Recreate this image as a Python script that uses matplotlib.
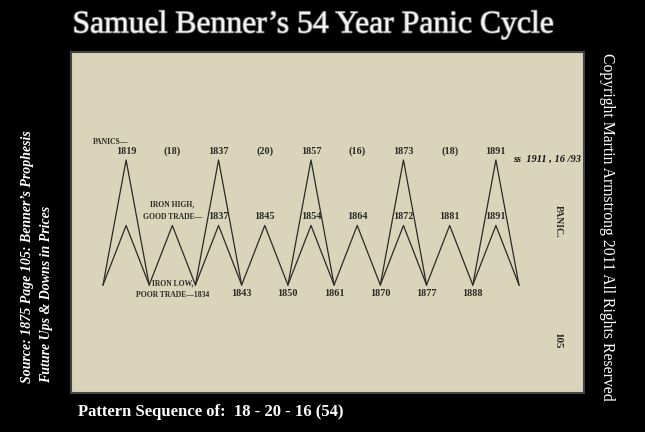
import matplotlib.pyplot as plt
from matplotlib import patheffects

W, H = 645, 432

# iron price zigzag: 0 = iron low / poor trade, 1 = iron high / good trade
iron_level = [0, 1, 0, 1, 0, 1, 0, 1, 0, 1, 0, 1, 0, 1, 0, 1, 0, 1, 0]
# panic spikes: start index of each low-peak-low triangle
panic_start = [0, 4, 8, 12, 16]
panic_level = 2.1
panic_years = ["1819", "1837", "1857", "1873", "1891"]
gap_labels = ["(18)", "(20)", "(16)", "(18)"]
high_idx = [5, 7, 9, 11, 13, 15, 17]
high_years = ["1837", "1845", "1854", "1864", "1872", "1881", "1891"]
low_idx = [6, 8, 10, 12, 14, 16]
low_years = ["1843", "1850", "1861", "1870", "1877", "1888"]

SERIF = ["Liberation Serif", "DejaVu Serif"]
plt.rcParams["font.family"] = SERIF
INK = "#2b2a26"
PAPER = "#dad4bb"


def fx(px):
    return px / W


def fy(py):
    return 1 - py / H


fig = plt.figure(figsize=(W / 100, H / 100), dpi=100, facecolor="black")

# scanned page
paper = fig.add_axes([fx(71), fy(393), fx(584 - 71), (393 - 52) / H])
paper.set_facecolor(PAPER)
paper.set_xticks([])
paper.set_yticks([])
for s in paper.spines.values():
    s.set_color("#444444")
    s.set_linewidth(1.5)

# chart area inside the page
ax = fig.add_axes([fx(103), fy(285), fx(519 - 103), (285 - 160) / H])
ax.set_xlim(0, len(iron_level) - 1)
ax.set_ylim(0, panic_level)
ax.axis("off")

xs = list(range(len(iron_level)))
ax.plot(xs, iron_level, color=INK, lw=0.9, clip_on=False)
for s in panic_start:
    ax.plot([s, s + 1, s + 2], [iron_level[s], panic_level, iron_level[s + 2]],
            color=INK, lw=0.9, clip_on=False)

lab = dict(fontsize=7.3, fontweight="bold", color=INK, ha="center",
           textcoords="offset points", annotation_clip=False)
for s, yr in zip(panic_start, panic_years):
    ax.annotate(yr, (s + 1, panic_level), xytext=(0, 3), va="bottom", **lab)
for i, g in enumerate(gap_labels):
    ax.annotate(g, (panic_start[i] + 3, panic_level), xytext=(0, 3), va="bottom", **lab)
for i, yr in zip(high_idx, high_years):
    ax.annotate(yr, (i, 1), xytext=(0, 3), va="bottom", **lab)
for i, yr in zip(low_idx, low_years):
    ax.annotate(yr, (i, 0), xytext=(0, -3), va="top", **lab)

small = dict(fontsize=5.5, fontweight="bold", color=INK, ha="center", va="center")
ax.annotate("PANICS—", (1, panic_level), xytext=(-11, 13),
            textcoords="offset points", annotation_clip=False, **small)
ax.annotate("IRON HIGH,", (3, 1), xytext=(0, 15),
            textcoords="offset points", annotation_clip=False, **small)
ax.annotate("GOOD TRADE—", (3, 1), xytext=(0, 6),
            textcoords="offset points", annotation_clip=False, **small)
ax.annotate("IRON LOW,", (3, 0), xytext=(0, 1),
            textcoords="offset points", annotation_clip=False, **small)
ax.annotate("POOR TRADE—1834", (3, 0), xytext=(0, -7),
            textcoords="offset points", annotation_clip=False, **small)

fig.text(fx(513), fy(159), "ss  1911 , 16 /93", fontsize=7.5, fontweight="bold",
         style="italic", color="#111111", ha="left", va="center")
fig.text(fx(558), fy(221), "PANIC.", fontsize=7, fontweight="bold", color=INK,
         rotation=270, ha="center", va="center")
fig.text(fx(558), fy(340), "105", fontsize=8, fontweight="bold", color=INK,
         rotation=270, ha="center", va="center")

# frame texts
title = fig.text(fx(313), fy(25), "Samuel Benner\u2019s 54 Year Panic Cycle",
                 fontsize=22.8, color="#f2f2f2", ha="center", va="center")
title.set_path_effects([patheffects.withStroke(linewidth=1.2, foreground="#777777")])

side = dict(fontsize=10, style="italic", fontweight="bold", color="white",
            rotation=90, ha="center", va="bottom")
fig.text(fx(28), fy(383), "Source: 1875 Page 105: Benner\u2019s Prophesis", **side)
fig.text(fx(47), fy(383), "Future Ups & Downs in Prices", **side)
fig.text(fx(607), fy(53), "Copyright Martin Armstrong 2011 All Rights Reserved",
         fontsize=11.3, color="white", rotation=270, ha="center", va="top")
fig.text(fx(78), fy(412), "Pattern Sequence of:  18 - 20 - 16 (54)",
         fontsize=12, fontweight="bold", color="white", ha="left", va="center")

fig.savefig("out.png", dpi=100, facecolor="black")
